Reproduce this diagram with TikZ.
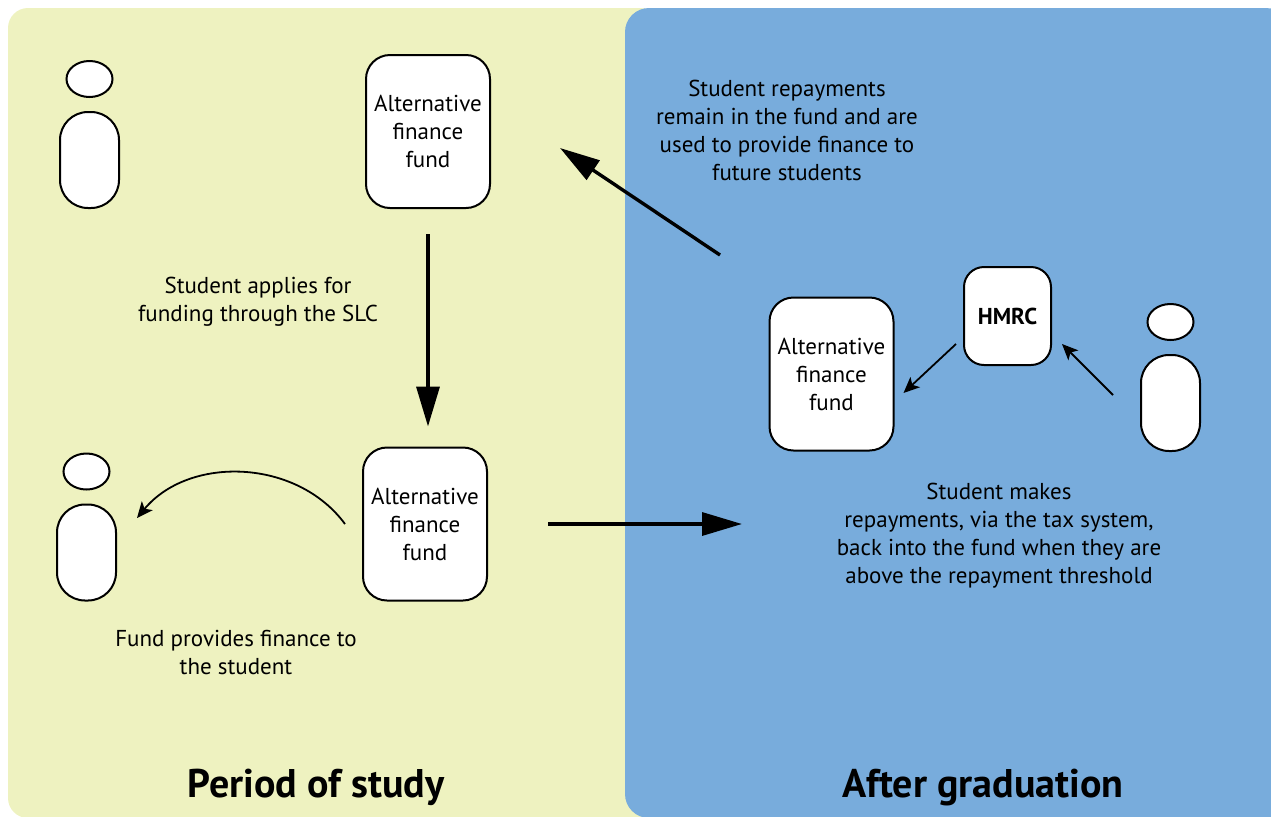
\documentclass[tikz,border=0pt]{standalone}
\usepackage{fontspec}
\setmainfont{PT Sans}
\usetikzlibrary{positioning,shapes.geometric,arrows.meta}

\definecolor{studyyellow}{RGB}{238,242,192}
\definecolor{gradblue}{RGB}{120,172,220}

\tikzset{
	fundbox/.style={draw, fill=white, line width=1pt, rounded corners=12pt,
		minimum width=62pt, minimum height=76.5pt, inner sep=0pt, align=center,
		font=\fontsize{11.5}{14}\selectfont},
	hmrcbox/.style={draw, fill=white, line width=1pt, rounded corners=10pt,
		minimum width=43.5pt, minimum height=49pt, inner sep=0pt,
		font=\fontsize{11.5}{14}\selectfont\bfseries},
	head/.style={draw, fill=white, line width=1pt, ellipse, inner sep=0pt,
		minimum width=23pt, minimum height=18pt},
	body/.style={draw, fill=white, line width=1pt, rounded corners=14pt,
		minimum width=29.5pt, minimum height=48pt, inner sep=0pt},
	note/.style={align=center, inner sep=0pt, font=\fontsize{11.5}{14}\selectfont},
	title/.style={inner sep=0pt, anchor=base, font=\fontsize{20}{24}\selectfont\bfseries},
	bigarrow/.style={line width=1.7pt, -{Triangle[length=20pt,width=11.5pt]}},
	smallarrow/.style={line width=0.9pt, -{Stealth[length=8pt,width=7pt,inset=2pt]}}
}

\begin{document}
\begin{tikzpicture}[x=0.5pt, y=-0.5pt]
		\useasboundingbox (0,0) rectangle (1271,816);
		% panels
		\fill[studyyellow, rounded corners=10pt] (8,8) rectangle (660,818);
		\fill[gradblue, rounded corners=12pt] (625,8) rectangle (1290,818);

		% period of study
		\node [body] (bodyA) at (89.5,160) {};
		\node [head, above=6.5pt of bodyA] (headA) {};
		\node [fundbox] (fundA) at (428,131.5) {Alternative\\finance\\fund};
		\node [fundbox] (fundB) at (425,524) {Alternative\\finance\\fund};
		\node [body] (bodyB) at (86.5,552.5) {};
		\node [head, above=6.5pt of bodyB] (headB) {};
		\node [note] (applies) at (258,302) {Student applies for\\funding through the SLC};
		\node [note] (provides) at (236,652) {Fund provides finance to\\the student};
		\node [title] (study) at (316,797) {Period of study};

		% after graduation
		\node [fundbox] (fundC) at (831.5,374) {Alternative\\finance\\fund};
		\node [hmrcbox] (hmrc) at (1007.5,316) {HMRC};
		\node [body] (bodyC) at (1170.5,403) {};
		\node [head, above=6.5pt of bodyC] (headC) {};
		\node [note] (reuse) at (787,130) {Student repayments\\remain in the fund and are\\used to provide finance to\\future students};
		\node [note] (taxrepay) at (999,536) {Student makes\\repayments, via the tax system,\\back into the fund when they are\\above the repayment threshold};
		\node [title] (graduation) at (983,797) {After graduation};

		\coordinate (giveEnd) at (137,518);
		\coordinate (giveStart) at (345,524);
		\coordinate (gradEnd) at (742,524);
		\coordinate (reuseStart) at (720,255);
		\coordinate (reuseEnd) at (560,148);

		\draw [bigarrow, shorten <=12.5pt, shorten >=10pt] (fundA.south) -- (fundA.south |- fundB.north);
		\draw [smallarrow] (giveStart) to[bend right=52] (giveEnd);
		\draw [bigarrow, shorten <=30pt] (fundB.east) -- (gradEnd);
		\draw [bigarrow] (reuseStart) -- (reuseEnd);
		\draw [smallarrow] ([shift={(-7,28)}]hmrc.west) -- ([shift={(9,19)}]fundC.east);
		\draw [smallarrow] ([shift={(-27,-8)}]bodyC.west) -- ([shift={(10,28)}]hmrc.east);
	\end{tikzpicture}
\end{document}
